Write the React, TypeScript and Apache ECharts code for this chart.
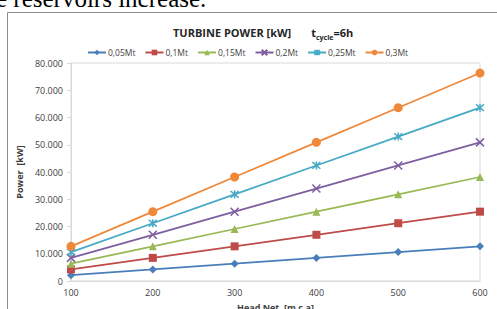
import React, { useEffect, useRef } from "react";
import * as echarts from "echarts";

const heads = [100, 200, 300, 400, 500, 600];
const seriesNames = ["0,05Mt", "0,1Mt", "0,15Mt", "0,2Mt", "0,25Mt", "0,3Mt"];
const p005 = [2120, 4240, 6360, 8480, 10600, 12720];
const p010 = [4240, 8480, 12720, 16960, 21200, 25440];
const p015 = [6360, 12720, 19080, 25440, 31800, 38160];
const p020 = [8480, 16960, 25440, 33920, 42400, 50880];
const p025 = [10600, 21200, 31800, 42400, 53000, 63600];
const p030 = [12720, 25440, 38160, 50880, 63600, 76320];
const allValues = [p005, p010, p015, p020, p025, p030];
const colors = ["#4a7ebb", "#be4b48", "#98b954", "#7d5fa0", "#46aac5", "#f0883a"];
const xMark = "path://M0,0L10,10M10,0L0,10";
const starMark = "path://M0,0L10,10M10,0L0,10M5,-1L5,11";
const symbols = ["diamond", "rect", "triangle", xMark, starMark, "circle"];
const symbolSizes = [8, 8, 8, 8, 8, 9];

function fmt(v: number) {
  if (v === 0) return "0";
  const s = String(Math.round(v));
  return s.replace(/\B(?=(\d{3})+(?!\d))/g, ".");
}

export default function App() {
  const ref = useRef<HTMLDivElement>(null);
  useEffect(() => {
    if (!ref.current) return;
    const chart = echarts.init(ref.current, null, { renderer: "svg" });
    const font = "'Open Sans', 'Liberation Sans', sans-serif";
    chart.setOption({
      animation: false,
      textStyle: { fontFamily: font },
      title: {
        text: "{a|TURBINE POWER [kW]}{sp|}{a|t}{sub|cycle}{a|=6h}",
        left: 168,
        top: 18,
        textStyle: {
          rich: {
            a: { fontSize: 11, fontWeight: "bold", color: "#262626", fontFamily: font },
            sp: { width: 20 },
            sub: { fontSize: 7, fontWeight: "bold", color: "#262626", fontFamily: font, verticalAlign: "bottom", padding: [4, 0, 0, 0] },
          },
        },
      },
      legend: {
        top: 43,
        left: 82,
        itemWidth: 18,
        itemHeight: 7,
        itemGap: 9,
        textStyle: { fontSize: 8.5, color: "#404040", fontFamily: font, padding: [0, 0, 0, -3] },
        data: seriesNames,
      },
      graphic: [
        {
          type: "text",
          left: -4,
          top: -14,
          style: {
            text: "e reservoirs increase.",
            fontFamily: "'Liberation Serif', 'DejaVu Serif', serif",
            fontSize: 25,
            fill: "#000",
          },
        },
        {
          type: "rect",
          shape: { x: 7.5, y: 12.5, width: 520, height: 320 },
          style: { fill: "none", stroke: "#8c8c8c", lineWidth: 1 },
          z: -1,
        },
      ],
      grid: {
        left: 71,
        right: 17,
        top: 63,
        bottom: 28,
        show: true,
        borderColor: "#d9d9d9",
        borderWidth: 1,
        outerBoundsMode: "none",
        containLabel: false,
      },
      xAxis: {
        type: "value",
        min: 100,
        max: 600,
        interval: 100,
        name: "Head Net  [m.c.a]",
        nameLocation: "middle",
        nameGap: 22,
        nameTextStyle: { fontSize: 9, fontWeight: "bold", color: "#404040" },
        axisLine: { lineStyle: { color: "#d9d9d9" } },
        axisTick: { show: false },
        splitLine: { show: false },
        axisLabel: { fontSize: 9, color: "#404040", margin: 7 },
      },
      yAxis: {
        type: "value",
        min: 0,
        max: 80000,
        interval: 10000,
        name: "Power  [kW]",
        nameLocation: "middle",
        nameGap: 47,
        nameTextStyle: { fontSize: 9, fontWeight: "bold", color: "#404040" },
        axisLine: { show: true, lineStyle: { color: "#d9d9d9" } },
        axisTick: { show: true, length: 4, lineStyle: { color: "#d9d9d9" } },
        splitLine: { show: false },
        axisLabel: { fontSize: 9, color: "#404040", margin: 8, formatter: (v: number) => fmt(v) },
      },
      series: allValues.map((vals, i) => ({
        name: seriesNames[i],
        type: "line",
        data: vals.map((v, j) => [heads[j], v]),
        symbol: symbols[i],
        symbolSize: symbolSizes[i],
        showAllSymbol: true,
        lineStyle: { color: colors[i], width: 1.75 },
        itemStyle: {
          color: colors[i],
          borderColor: colors[i],
          borderWidth: i === 3 || i === 4 ? 1.5 : 0,
        },
      })),
    });
    return () => chart.dispose();
  }, []);
  return (
    <div
      ref={ref}
      style={{ position: "absolute", left: 0, top: 0, width: 497, height: 309, background: "#fff" }}
    />
  );
}
